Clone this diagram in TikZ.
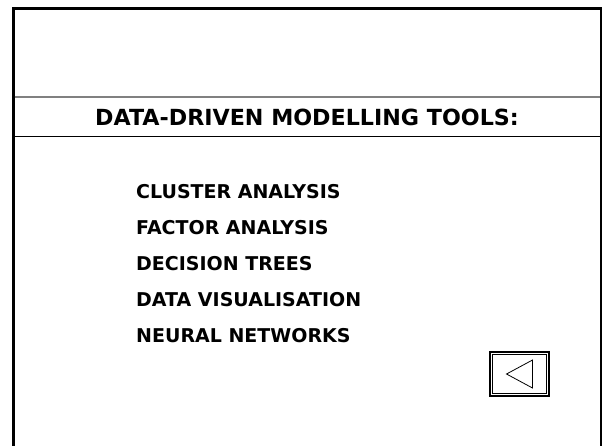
\documentclass[tikz,border=0pt]{standalone}
\usepackage{fontspec}
\setmainfont{DejaVu Sans}
\usetikzlibrary{positioning}

\begin{document}
\begin{tikzpicture}[x=1pt,y=-1pt,node distance=35.5pt,
  frame/.style={line width=3pt},
  rule/.style={line width=1pt},
  item/.style={font=\fontsize{19}{21}\selectfont\bfseries,inner sep=0pt,anchor=west},
  heading/.style={font=\fontsize{22.2}{25}\selectfont\bfseries,inner sep=0pt},
  button/.style={draw,line width=1.5pt,minimum width=59pt,minimum height=44pt,inner sep=0pt}]

  \useasboundingbox (0,0) rectangle (602,445);
  \clip (0,0) rectangle (602,445);

  \draw[frame] (13,470) -- (13,8) -- (601,8) -- (601,470);
  \draw[rule,line width=1.8pt,black!50] (14.5,97) -- (599.5,97);
  \draw[rule] (14.5,136) -- (599.5,136);

  \node[heading] (title) at (307,117) {DATA-DRIVEN MODELLING TOOLS:};

  \node[item] (cluster) at (136,192) {CLUSTER ANALYSIS};
  \node[item] (factor) [below=36pt of cluster.west,anchor=west] {FACTOR ANALYSIS};
  \node[item] (trees) [below=36pt of factor.west,anchor=west] {DECISION TREES};
  \node[item] (vis) [below=36pt of trees.west,anchor=west] {DATA VISUALISATION};
  \node[item] (neural) [below=36pt of vis.west,anchor=west] {NEURAL NETWORKS};

  \node[button] (back) at (519.5,374) {};
  \draw[line width=0.8pt] ([shift={(3pt,-3pt)}]back.north west) rectangle ([shift={(-3pt,3pt)}]back.south east);
  \draw[line width=0.8pt] ([xshift=-13pt]back.center) -- ([shift={(13pt,14pt)}]back.center)
    -- ([shift={(13pt,-14pt)}]back.center) -- cycle;
\end{tikzpicture}
\end{document}
